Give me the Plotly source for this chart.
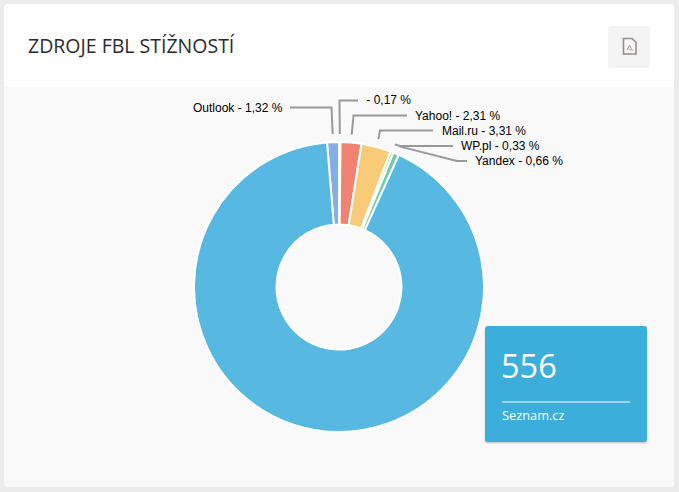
import math
import plotly.graph_objects as go

W, H = 679, 492

# data
names = ["Outlook", "-", "Yahoo!", "Mail.ru", "WP.pl", "Yandex", "Seznam.cz"]
shares = [1.32, 0.17, 2.31, 3.31, 0.33, 0.66, 91.90]
label_texts = ["Outlook - 1,32 %", " - 0,17 %", "Yahoo! - 2,31 %", "Mail.ru - 3,31 %",
               "WP.pl - 0,33 %", "Yandex - 0,66 %"]
colors = ["#85AEE8", "#B9A3E0", "#F08372", "#F7CB77", "#B8DDA0", "#72CCAE", "#57B8E2"]
title = "ZDROJE FBL STÍŽNOSTÍ"
card_value = "556"
card_name = "Seznam.cz"

# layout (pixels)
CX, CY, R = 339, 287, 145
HOLE = 62.5 / 145
LINE_R = R + 8
# per label: text x, text y, elbow x, line end x on the label side
label_layout = [
    (285, 107.5, 331.5, 290, "right"),
    (361, 100.5, 339.5, 358, "left"),
    (413, 115.5, 353.5, 407, "left"),
    (440, 130.5, 380, 433, "left"),
    (459, 146, 400, 453, "left"),
    (473, 161, 457, 467, "left"),
]


def px(x):
    return x / W


def py(y):
    return 1 - y / H


def rrect(x0, y0, x1, y1, r):
    a, b, c, d = px(x0), px(x1), py(y0), py(y1)
    rx, ry = r / W, r / H
    return (f"M{a + rx},{c} L{b - rx},{c} Q{b},{c} {b},{c - ry} L{b},{d + ry} Q{b},{d} {b - rx},{d} "
            f"L{a + rx},{d} Q{a},{d} {a},{d + ry} L{a},{c - ry} Q{a},{c} {a + rx},{c} Z")


def top_rrect(x0, y0, x1, y1, r):
    a, b, c, d = px(x0), px(x1), py(y0), py(y1)
    rx, ry = r / W, r / H
    return (f"M{a + rx},{c} L{b - rx},{c} Q{b},{c} {b},{c - ry} L{b},{d} L{a},{d} L{a},{c - ry} "
            f"Q{a},{c} {a + rx},{c} Z")


def poly(points, close=False):
    s = "M" + " L".join(f"{px(x)},{py(y)}" for x, y in points)
    return s + (" Z" if close else "")


def path(d, fill=None, line=None, width=0, layer="below"):
    return dict(type="path", xref="paper", yref="paper", path=d, layer=layer,
                fillcolor=fill or "rgba(0,0,0,0)",
                line=dict(color=line or "rgba(0,0,0,0)", width=width))


shapes = [
    path(rrect(4, 4, 674, 487, 4), fill="#F9F9F9"),
    path(top_rrect(4, 4, 674, 87, 4), fill="#FFFFFF"),
    path(rrect(608, 26, 650, 68, 3), fill="#F3F3F3"),
    # pdf icon
    path(poly([(623.5, 38.5), (632, 38.5), (636, 42.5), (636, 54), (623.5, 54)], True),
         fill="#F7F7F7", line="#8F8F8F", width=1.6),
    path(poly([(627, 50.5), (629.5, 45), (632.5, 50.5), (627.5, 48.5)]), line="#C9A08C", width=1),
    # value card with soft shadow
    path(rrect(484, 327, 648, 444, 4), fill="#E4E6E8"),
    path(rrect(485, 328, 647, 443, 3), fill="#C9CDD0"),
    path(rrect(485, 326, 647, 442, 3), fill="#3CAEDC"),
    path(poly([(502, 402), (630, 402)]), line="#FFFFFF", width=1),
]

annotations = []
cum = 0
total = sum(shares)
for i, txt in enumerate(label_texts):
    mid = (cum + shares[i] / 2) / total * 2 * math.pi - 2 * math.pi * shares[0] / total
    cum += shares[i]
    ax = CX + LINE_R * math.sin(mid)
    ay = CY - LINE_R * math.cos(mid)
    tx, ty, ex, lx, anchor = label_layout[i]
    shapes.append(path(poly([(lx, ty), (ex, ty), (ax, ay)]),
                       line="#999999", width=2, layer="above"))
    annotations.append(dict(x=px(tx), y=py(ty), xref="paper", yref="paper", text=txt,
                            showarrow=False, xanchor=anchor, yanchor="middle",
                            font=dict(family="Liberation Sans, Arial", size=12, color="#000000")))

annotations += [
    dict(x=px(26), y=py(45.5), xref="paper", yref="paper", text=title, showarrow=False,
         xanchor="left", yanchor="middle",
         font=dict(family="Open Sans", size=19.5, color="#2B2B2B", weight=400)),
    dict(x=px(498.5), y=py(365), xref="paper", yref="paper", text=card_value, showarrow=False,
         xanchor="left", yanchor="middle",
         font=dict(family="Open Sans", size=32.5, color="#FFFFFF")),
    dict(x=px(500), y=py(415), xref="paper", yref="paper", text=card_name, showarrow=False,
         xanchor="left", yanchor="middle",
         font=dict(family="Open Sans", size=12.8, color="#FFFFFF")),
]

fig = go.Figure(go.Pie(
    labels=names, values=shares, sort=False, direction="clockwise",
    rotation=-shares[0] / total * 360, hole=HOLE, textinfo="none", hoverinfo="label+percent",
    marker=dict(colors=colors, line=dict(color="#FFFFFF", width=2)),
    domain=dict(x=[px(CX - R), px(CX + R)], y=[py(CY + R), py(CY - R)]),
))
fig.update_layout(
    width=W, height=H, autosize=False, showlegend=False,
    margin=dict(l=0, r=0, t=0, b=0), paper_bgcolor="#ECECEC",
    shapes=shapes, annotations=annotations,
)
fig.write_html("out.html", config={"displayModeBar": False},
               post_script="document.body.style.margin='0';document.body.style.overflow='hidden';")
